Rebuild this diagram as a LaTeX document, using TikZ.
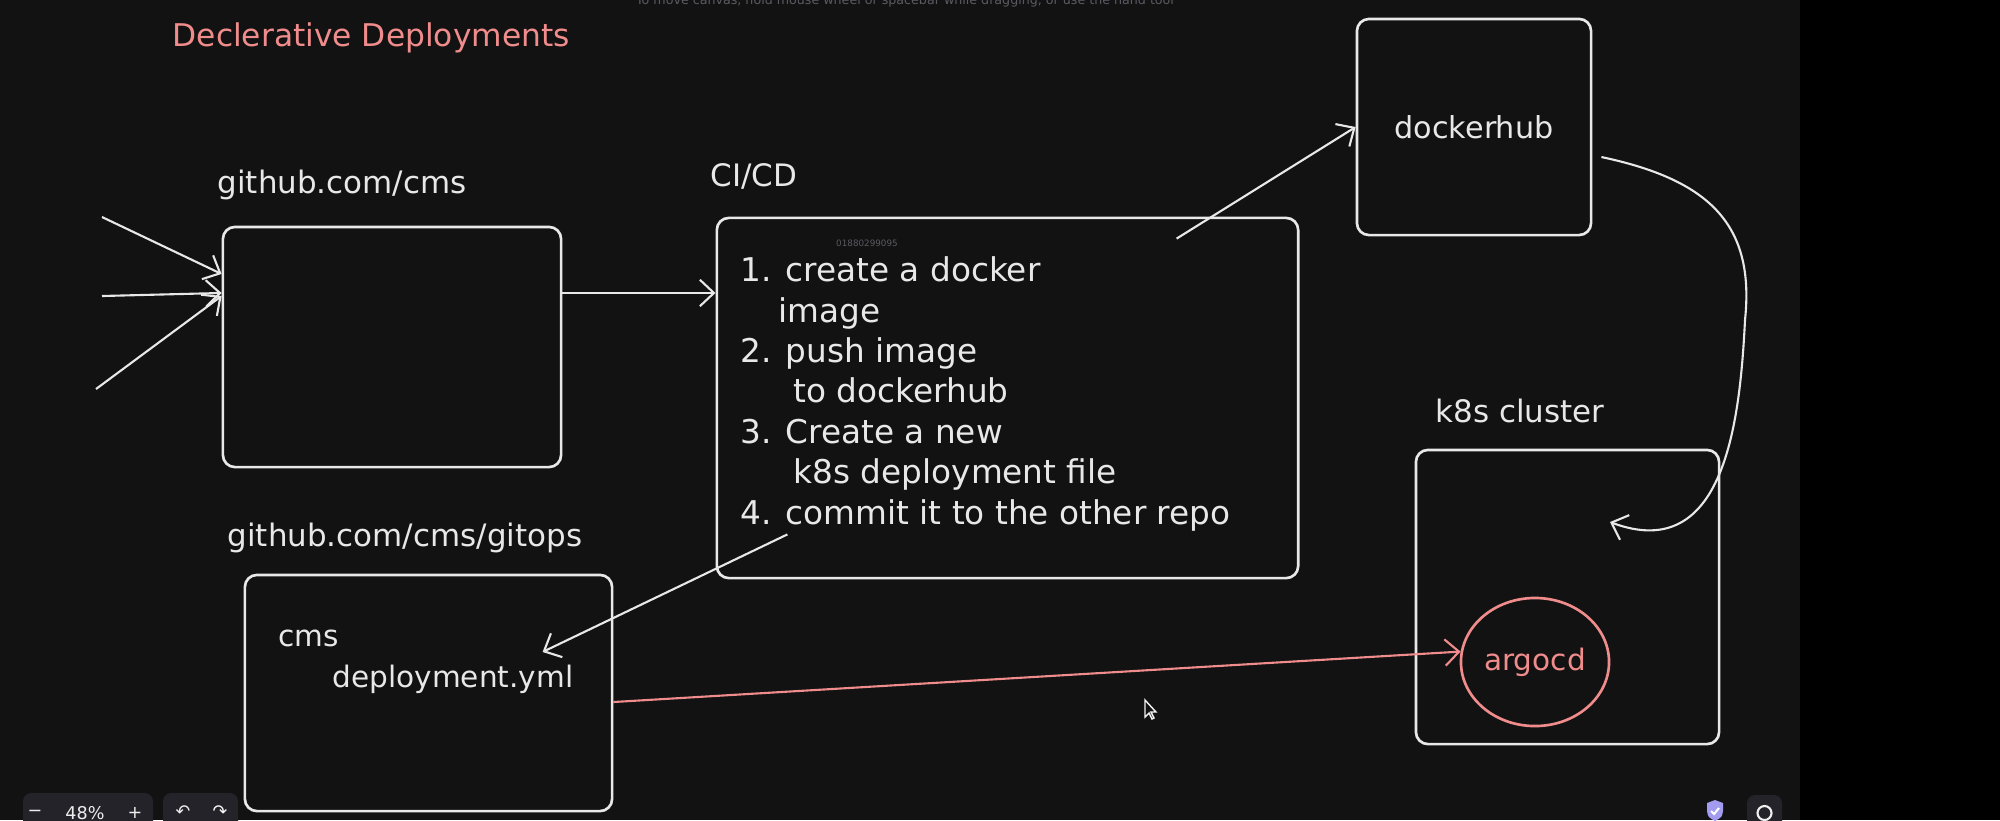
\documentclass[tikz,border=0pt]{standalone}
\usepackage{fontspec}
\setmainfont{DejaVu Sans}
\usetikzlibrary{arrows.meta,shapes.geometric}

\definecolor{canvas}{HTML}{121212}
\definecolor{ink}{HTML}{E8E8E8}
\definecolor{salmon}{HTML}{F08C8C}
\definecolor{chrome}{HTML}{232329}
\definecolor{hint}{HTML}{5A5A62}
\definecolor{shield}{HTML}{A29BF0}

\begin{document}
\begin{tikzpicture}[x=0.01cm, y=-0.01cm,
    panel/.style = {draw=ink, line width=0.75pt, rounded corners=0.12cm, inner sep=0pt},
    heading/.style = {text=ink, anchor=west, inner sep=0pt, font=\fontsize{8.8}{11}\selectfont},
    flow/.style = {draw=ink, line width=0.6pt, -{Straight Barb[length=4pt,width=7.5pt]}},
    ui/.style = {fill=chrome, rounded corners=0.08cm},
    uitext/.style = {text=ink!80, inner sep=0pt, font=\fontsize{5}{6}\selectfont}]

    \useasboundingbox (0,0) rectangle (2000,820);
    \fill[canvas] (0,0) rectangle (1800,820);
    \fill[black] (1800,0) rectangle (2000,820);

    \node[text=hint, inner sep=0pt, font=\fontsize{3.6}{4}\selectfont] (tip) at (905,1) {To move canvas, hold mouse wheel or spacebar while dragging, or use the hand tool};
    \node[text=salmon, anchor=west, inner sep=0pt, font=\fontsize{8.9}{11}\selectfont] (title) at (172,38) {Declerative Deployments};

    \node[heading] (repolabel) at (217,185) {github.com/cms};
    \node[panel, minimum width=3.38cm, minimum height=2.4cm] (repo) at (392,347) {};

    \node[heading] (cicdlabel) at (710,176) {CI/CD};
    \node[panel, minimum width=5.81cm, minimum height=3.6cm] (cicd) at (1007.5,398) {};
    \node[text=hint, inner sep=0pt, font=\fontsize{2.5}{3}\selectfont] (stamp) at (867,243) {01880299095};
    \node[text=ink, anchor=north west, inner sep=0pt, align=left, font=\fontsize{9.3}{11.5}\selectfont] (steps) at (740,256)
        {1. create a docker\\
         \hspace*{0.38cm}image\\
         2. push image\\
         \hspace*{0.53cm}to dockerhub\\
         3. Create a new\\
         \hspace*{0.53cm}k8s deployment file\\
         4. commit it to the other repo};

    \node[panel, minimum width=2.34cm, minimum height=2.16cm, text=ink, font=\fontsize{8.6}{11}\selectfont] (hub) at (1474,127) {dockerhub};

    \node[heading] (clusterlabel) at (1435,411) {k8s cluster};
    \node[panel, minimum width=3.03cm, minimum height=2.94cm] (cluster) at (1567.5,597) {};
    \node[ellipse, draw=salmon, line width=0.75pt, minimum width=1.48cm, minimum height=1.28cm, inner sep=0pt,
          text=salmon, font=\fontsize{8.4}{11}\selectfont] (argocd) at (1535,662) {argocd};

    \node[heading] (gitopslabel) at (227,538) {github.com/cms/gitops};
    \node[panel, minimum width=3.67cm, minimum height=2.36cm] (gitops) at (428.5,693) {};
    \node[text=ink, anchor=north west, inner sep=0pt, align=left, font=\fontsize{8.4}{11.6}\selectfont] (manifest) at (278,629)
        {cms\\ \hspace*{0.54cm}deployment.yml};

    \coordinate (in1) at (102,217);
    \coordinate (in2) at (102,296);
    \coordinate (in3) at (96,389);
    \coordinate (push) at ([yshift=0.54cm]repo.east);
    \coordinate (pull) at (1610,522);

    \draw[flow] (in1) -- ([yshift=0.73cm]repo.west);
    \draw[flow] (in2) -- ([yshift=0.54cm]repo.west);
    \draw[flow] (in3) -- ([yshift=0.51cm]repo.west);
    \draw[flow] (push) -- (push -| cicd.west);
    \draw[flow] ([xshift=1.69cm,yshift=-0.22cm]cicd.north) -- (hub.west);
    \draw[flow] ([xshift=-2.2cm,yshift=0.45cm]cicd.south) -- ([xshift=1.14cm,yshift=0.41cm]gitops.center);
    \draw[flow] ([xshift=0.09cm,yshift=-0.3cm]hub.east) .. controls (1710,180) and (1755,225) .. (1745,320)
                .. controls (1740,420) and (1725,565) .. (pull);
    \draw[flow, draw=salmon] ([yshift=-0.09cm]gitops.east) -- (argocd.172);

    \fill[ui] (23,793) rectangle (153,835);
    \node[uitext] (zoomout) at (35,813) {−};
    \node[uitext] (zoomlevel) at (85,813) {48\%};
    \node[uitext] (zoomin) at (135,813) {+};
    \fill[ui] (163,793) rectangle (238,835);
    \node[uitext] (undo) at (183,812) {↶};
    \node[uitext, text=ink!35] (redo) at (220,812) {↷};
    \fill[shield] (1707,803) -- (1715,800) -- (1723,803) -- (1723,811) .. controls (1722,817) .. (1715,821)
                  .. controls (1708,817) .. (1707,811) -- cycle;
    \draw[white, line width=0.6pt] (1711,811) -- (1714,814) -- (1719,808);
    \fill[ui] (1747,795) rectangle (1782,835);
    \draw[ink!70, line width=0.6pt] (1764.5,813) circle (0.07cm);
    \draw[ink!60, line width=0.4pt, fill=canvas] (1145,700) -- (1145,717) -- (1149,713) -- (1152,719) -- (1154,718)
                  -- (1151,712) -- (1156,712) -- cycle;
\end{tikzpicture}
\end{document}
